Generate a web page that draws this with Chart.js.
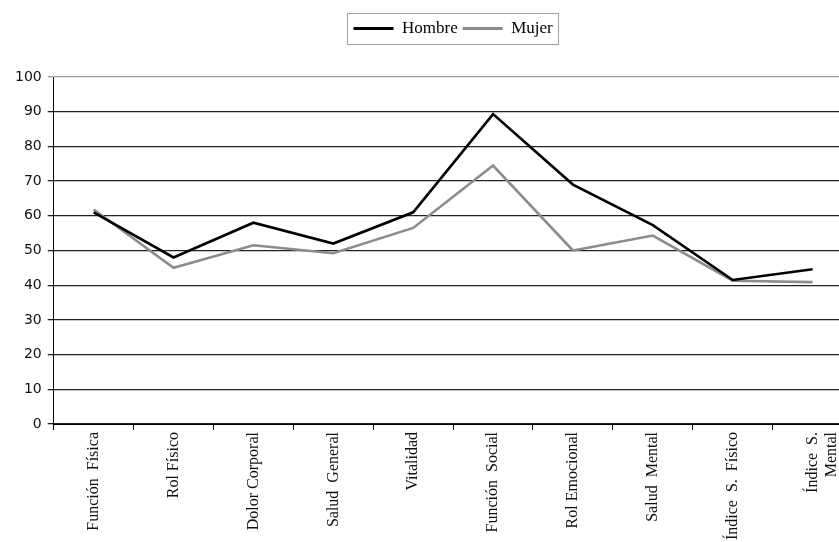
<!DOCTYPE html>
<html>
<head>
<meta charset="utf-8">
<script src="https://cdn.jsdelivr.net/npm/chart.js@4/dist/chart.umd.min.js"></script>
<style>
  html, body { margin: 0; padding: 0; background: #fff; overflow: hidden; }
  #wrap { width: 853px; height: 542px; position: relative; }
</style>
</head>
<body>
<div id="wrap"><canvas id="c"></canvas></div>
<script>
// SF-36 dimension scores by sex
const categories = [
  'Función  Física', 'Rol Físico', 'Dolor Corporal', 'Salud  General', 'Vitalidad',
  'Función  Social', 'Rol Emocional', 'Salud  Mental', 'Índice  S.  Físico', ['Índice  S.', 'Mental']
];
const hombre = [61, 48, 58, 52, 61, 89.3, 69, 57.3, 41.5, 44.6];
const mujer  = [61.8, 45, 51.5, 49.2, 56.5, 74.5, 50, 54.3, 41.3, 40.9];
const yMin = 0, yMax = 100, yStep = 10;

const serif = '"Liberation Serif", "Times New Roman", serif';

// frame drawn around the legend block, plus extra space below it
const legendFrame = {
  id: 'legendFrame',
  beforeInit(chart) {
    const fit = chart.legend.fit;
    chart.legend.fit = function () {
      fit.call(this);
      this.height += 30;
    };
  },
  afterDraw(chart) {
    const lg = chart.legend;
    if (!lg || !lg.legendHitBoxes.length) return;
    const boxes = lg.legendHitBoxes;
    const x0 = Math.min(...boxes.map(b => b.left)) - 6;
    const x1 = Math.max(...boxes.map(b => b.left + b.width)) + 6;
    const y0 = Math.min(...boxes.map(b => b.top)) - 7;
    const y1 = Math.max(...boxes.map(b => b.top + b.height)) + 7;
    const ctx = chart.ctx;
    ctx.save();
    ctx.strokeStyle = '#a0a0a0';
    ctx.lineWidth = 1;
    ctx.strokeRect(Math.round(x0) + 0.5, Math.round(y0) + 0.5, Math.round(x1 - x0), Math.round(y1 - y0));
    ctx.restore();
  }
};

new Chart(document.getElementById('c'), {
  type: 'line',
  data: {
    labels: categories,
    datasets: [
      { label: 'Hombre', data: hombre, borderColor: '#000', backgroundColor: '#000',
        borderWidth: 2.6, pointRadius: 0, tension: 0 },
      { label: 'Mujer', data: mujer, borderColor: '#8c8c8c', backgroundColor: '#8c8c8c',
        borderWidth: 2.6, pointRadius: 0, tension: 0 }
    ]
  },
  options: {
    responsive: true,
    maintainAspectRatio: false,
    animation: false,
    layout: { padding: { left: 9, top: 15, right: 0, bottom: 0 } },
    plugins: {
      tooltip: { enabled: false },
      legend: {
        position: 'top',
        fullSize: false,
        labels: {
          color: '#000',
          font: { family: serif, size: 17 },
          boxWidth: 40,
          boxHeight: 3,
          padding: 5,
          generateLabels(chart) {
            return Chart.defaults.plugins.legend.labels.generateLabels(chart).map(l => {
              l.lineWidth = 0;
              return l;
            });
          }
        }
      }
    },
    scales: {
      x: {
        offset: true,
        grid: { offset: true, drawOnChartArea: false, drawTicks: true, tickLength: 6, color: '#000' },
        border: { color: '#000', width: 1 },
        ticks: {
          color: '#111',
          font: { family: serif, size: 16 },
          minRotation: 90, maxRotation: 90, autoSkip: false, padding: 2
        }
      },
      y: {
        min: yMin, max: yMax,
        grid: {
          color: ctx => ctx.tick && ctx.tick.value === yMax ? '#999' : '#222',
          lineWidth: 1.3,
          tickLength: 6
        },
        border: { color: '#000', width: 1 },
        ticks: {
          stepSize: yStep,
          color: '#111',
          font: { family: '"DejaVu Sans", sans-serif', size: 14 },
          padding: 6
        }
      }
    }
  },
  plugins: [legendFrame]
});
</script>
</body>
</html>
